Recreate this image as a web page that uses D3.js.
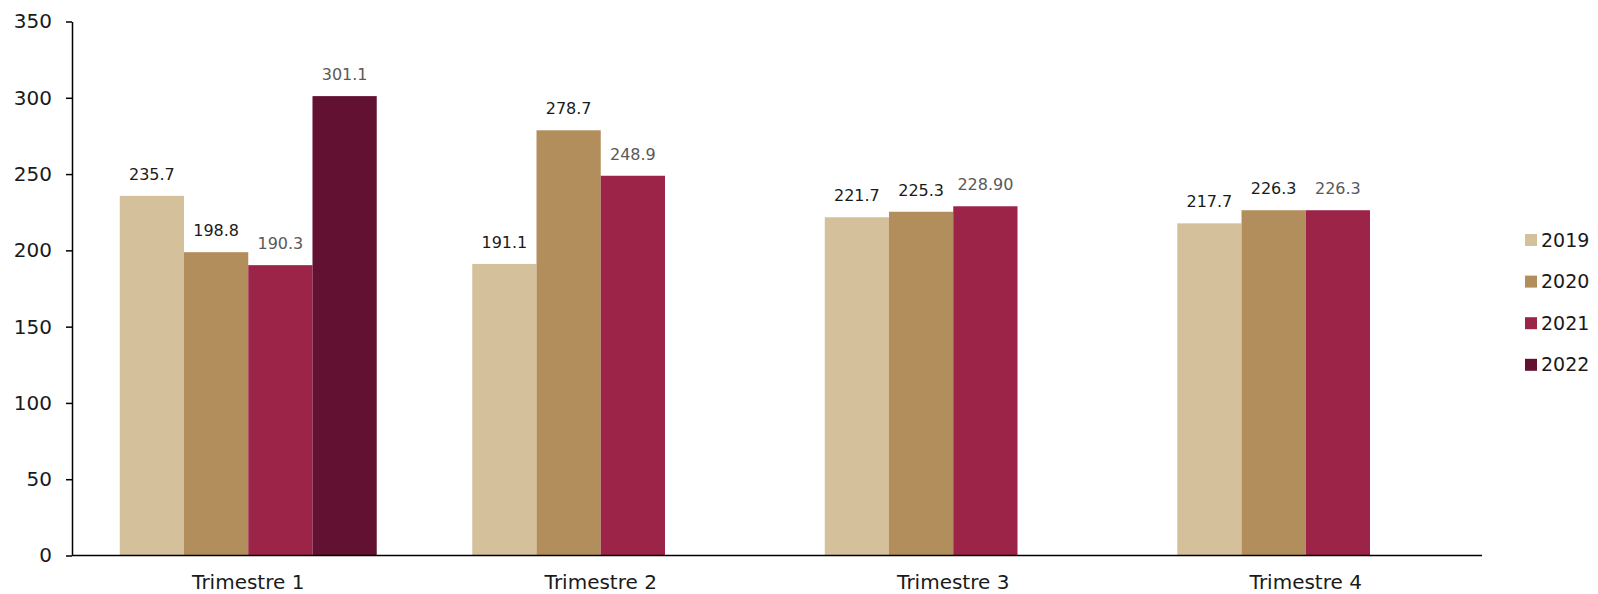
<!DOCTYPE html>
<html>
<head>
<meta charset="utf-8">
<script src="https://cdn.jsdelivr.net/npm/d3@7"></script>
<style>
  body { margin: 0; background: #fff; }
  text { font-family: "DejaVu Sans", sans-serif; }
</style>
</head>
<body>
<svg id="chart" width="1598" height="594"></svg>
<script>
var categories = ["Trimestre 1", "Trimestre 2", "Trimestre 3", "Trimestre 4"];
var years = ["2019", "2020", "2021", "2022"];
var v2019 = [235.7, 191.1, 221.7, 217.7];
var v2020 = [198.8, 278.7, 225.3, 226.3];
var v2021 = [190.3, 248.9, 228.9, 226.3];
var v2022 = [301.1, null, null, null];
var lbl2019 = ["235.7", "191.1", "221.7", "217.7"];
var lbl2020 = ["198.8", "278.7", "225.3", "226.3"];
var lbl2021 = ["190.3", "248.9", "228.90", "226.3"];
var lbl2022 = ["301.1", "", "", ""];
var yTicks = [0, 50, 100, 150, 200, 250, 300, 350];

var colors = ["#D4C19C", "#B38E5D", "#9D2449", "#621132"];
var labelColors = ["#1a1a1a", "#1a1a1a", "#595959", "#595959"];

var seriesValues = [v2019, v2020, v2021, v2022];
var seriesLabels = [lbl2019, lbl2020, lbl2021, lbl2022];

var svg = d3.select("#chart");

var plotLeft = 72, plotRight = 1482, plotTop = 21.5, plotBottom = 555.5;

var x0 = d3.scaleBand()
    .domain(categories)
    .range([plotLeft, plotRight])
    .paddingInner(0.271)
    .paddingOuter(0.1355);

var x1 = d3.scaleBand()
    .domain(years)
    .range([0, x0.bandwidth()]);

var y = d3.scaleLinear()
    .domain([0, 350])
    .range([plotBottom, plotTop]);

var color = d3.scaleOrdinal().domain(years).range(colors);

// flat list of bars
var bars = [];
categories.forEach(function(c, i) {
    years.forEach(function(yr, j) {
        var v = seriesValues[j][i];
        if (v != null) {
            bars.push({ cat: c, year: yr, value: v, label: seriesLabels[j][i], lc: labelColors[j] });
        }
    });
});

var g = svg.append("g");

g.selectAll("rect.bar")
    .data(bars)
    .enter()
    .append("rect")
    .attr("class", "bar")
    .attr("x", function(d) { return x0(d.cat) + x1(d.year); })
    .attr("y", function(d) { return y(d.value); })
    .attr("width", x1.bandwidth())
    .attr("height", function(d) { return y(0) - y(d.value); })
    .attr("fill", function(d) { return color(d.year); });

g.selectAll("text.val")
    .data(bars)
    .enter()
    .append("text")
    .attr("class", "val")
    .attr("x", function(d) { return x0(d.cat) + x1(d.year) + x1.bandwidth() / 2; })
    .attr("y", function(d) { return y(d.value) - 16; })
    .attr("text-anchor", "middle")
    .style("font-size", "16px")
    .attr("fill", function(d) { return d.lc; })
    .text(function(d) { return d.label; });

// y axis
var yAxis = svg.append("g")
    .attr("transform", "translate(" + plotLeft + ",0)")
    .call(d3.axisLeft(y).tickValues(yTicks).tickSize(6).tickSizeOuter(0).tickPadding(14));
yAxis.select(".domain").attr("stroke", "#000").attr("stroke-width", 1.5);
yAxis.selectAll(".tick line").attr("stroke", "#000").attr("stroke-width", 1.5);
yAxis.selectAll(".tick text")
    .style("font-size", "20px")
    .attr("fill", "#1a1a1a")
    .attr("font-family", "DejaVu Sans");

// x axis
var xAxis = svg.append("g")
    .attr("transform", "translate(0," + plotBottom + ")")
    .call(d3.axisBottom(x0).tickSize(0).tickSizeOuter(0).tickPadding(19));
xAxis.select(".domain").attr("stroke", "#000").attr("stroke-width", 1.5)
    .attr("d", "M" + plotLeft + ",0H" + plotRight);
xAxis.selectAll(".tick text")
    .style("font-size", "20px")
    .attr("fill", "#1a1a1a")
    .attr("font-family", "DejaVu Sans");

// legend
var legend = svg.append("g").attr("transform", "translate(1525,234)");
var li = legend.selectAll("g")
    .data(years)
    .enter()
    .append("g")
    .attr("transform", function(d, i) { return "translate(0," + (i * 41.6) + ")"; });
li.append("rect")
    .attr("width", 12)
    .attr("height", 12)
    .attr("fill", function(d) { return color(d); });
li.append("text")
    .attr("x", 16)
    .attr("y", 12.5)
    .style("font-size", "19px")
    .attr("fill", "#1a1a1a")
    .text(function(d) { return d; });
</script>
</body>
</html>
